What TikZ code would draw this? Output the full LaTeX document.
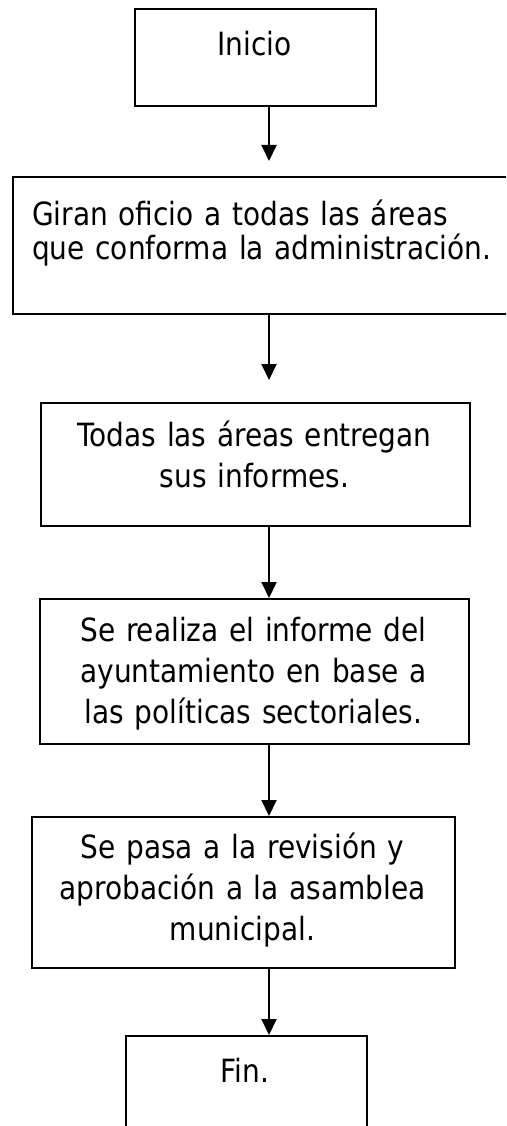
\documentclass[tikz,border=0pt]{standalone}
\usepackage{fontspec}
\setmainfont{DejaVu Sans}[FakeStretch=0.875]
\usetikzlibrary{arrows.meta}
\begin{document}
\begin{tikzpicture}[x=1pt,y=-1pt,
  box/.style={draw=black, line width=2.4pt, fill=white, rectangle, inner sep=0pt, anchor=north west},
  txt/.style={inner sep=0pt, font=\fontsize{32}{41}\selectfont, align=center},
  arr/.style={line width=2pt, -{Triangle[length=16pt,width=15pt]}}]
\useasboundingbox (0,0) rectangle (506,1126);
\clip (0,0) rectangle (506,1126);
\fill[white] (0,0) rectangle (506,1126);
% boxes
\node[box, minimum width=241pt, minimum height=97pt] (n1) at (134,8) {};
\node[box, minimum width=520pt, minimum height=137pt] (n2) at (12,176) {};
\node[box, minimum width=429pt, minimum height=123pt] (n3) at (40,402) {};
\node[box, minimum width=429pt, minimum height=145pt] (n4) at (39,598) {};
\node[box, minimum width=423pt, minimum height=151pt] (n5) at (31,816) {};
\node[box, minimum width=241pt, minimum height=120pt] (n6) at (125,1035) {};
% texts
\node[txt, anchor=base] (l1) at (254.5,56) {Inicio};
\node[txt, anchor=base west, text width=470pt, align=left, font=\fontsize{32}{34}\selectfont] (l2) at (32,225) {Giran oficio a todas las áreas\\que conforma la administración.};
\node[txt, anchor=base, text width=420pt] (l3) at (254.5,446) {Todas las áreas entregan\\sus informes.};
\node[txt, anchor=base, text width=420pt] (l4) at (253.5,641) {Se realiza el informe del\\ayuntamiento en base a\\las políticas sectoriales.};
\node[txt, anchor=base, text width=415pt] (l5) at (242.5,858) {Se pasa a la revisión y\\aprobación a la asamblea\\municipal.};
\node[txt, anchor=base] (l6) at (245,1082) {Fin.};
% connectors
\coordinate (ax) at (269,0);
\coordinate (t1) at (269,161);
\coordinate (t2) at (269,380);
\draw[arr] (n1.south -| ax) -- (t1);
\draw[arr] (n2.south -| ax) -- (t2);
\draw[arr] (n3.south -| ax) -- (n4.north -| ax);
\draw[arr] (n4.south -| ax) -- (n5.north -| ax);
\draw[arr] (n5.south -| ax) -- (n6.north -| ax);
\end{tikzpicture}
\end{document}
